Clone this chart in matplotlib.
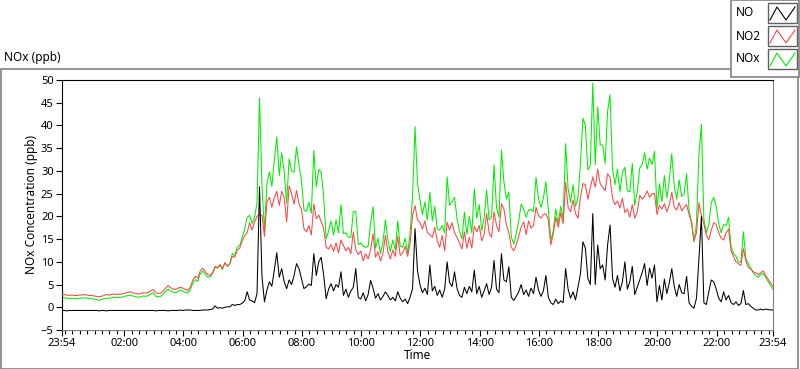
import numpy as np
import matplotlib
matplotlib.use("Agg")
import matplotlib.pyplot as plt
from matplotlib.patches import Rectangle
from matplotlib.lines import Line2D

plt.rcParams['font.family'] = ['Noto Sans', 'DejaVu Sans']

# 5-minute readings, one row per hour starting at 23:54
no = [
    -0.7, -0.7, -0.8, -0.7, -0.7, -0.7, -0.7, -0.7, -0.7, -0.7, -0.7, -0.7,
    -0.7, -0.7, -0.7, -0.8, -0.7, -0.7, -0.8, -0.7, -0.7, -0.7, -0.7, -0.7,
    -0.7, -0.7, -0.7, -0.7, -0.7, -0.7, -0.7, -0.7, -0.7, -0.7, -0.7, -0.7,
    -0.7, -0.7, -0.8, -0.7, -0.7, -0.7, -0.7, -0.8, -0.7, -0.7, -0.7, -0.7,
    -0.6, -0.7, -0.6, -0.6, -0.6, -0.7, -0.7, -0.7, -0.7, -0.6, -0.6, -0.6,
    -0.5, -0.4, 0.3, -0.2, -0.1, -0.2, 0.0, 0.1, 0.1, 0.6, 0.4, 0.6,
    0.6, 0.9, 1.4, 3.4, 1.6, 1.4, 1.0, 3.0, 26.5, 6.8, 1.2, 3.8,
    5.6, 4.6, 8.2, 12.0, 6.6, 8.5, 5.6, 4.1, 6.0, 5.0, 7.0, 9.6,
    8.5, 6.3, 4.1, 4.5, 5.1, 4.8, 11.8, 7.0, 10.0, 11.0, 7.0, 1.9,
    4.0, 5.2, 3.6, 5.0, 4.4, 7.8, 2.6, 4.0, 2.2, 3.6, 4.4, 8.5,
    2.2, 1.8, 3.2, 1.4, 2.8, 5.9, 4.2, 2.0, 3.0, 1.6, 2.4, 3.4,
    2.6, 1.6, 2.2, 1.4, 3.4, 2.0, 1.2, 1.8, 0.8, 2.2, 4.1, 17.3,
    8.0, 5.0, 3.2, 4.2, 2.8, 9.3, 3.6, 4.6, 2.6, 3.8, 2.2, 4.0,
    10.0, 5.4, 4.6, 7.8, 4.2, 2.6, 2.2, 4.4, 3.0, 4.6, 3.4, 8.2,
    3.0, 4.6, 2.2, 3.6, 5.2, 2.8, 4.4, 10.3, 4.0, 3.2, 11.8, 6.0,
    5.6, 8.9, 2.2, 1.5, 2.4, 3.4, 5.0, 2.8, 3.8, 2.4, 4.2, 3.0,
    6.6, 3.8, 2.4, 3.6, 7.0, 2.2, 1.0, 0.6, 1.8, 0.8, 1.4, 1.0,
    8.5, 4.0, 2.0, 3.4, 1.6, 4.4, 7.4, 14.4, 13.0, 6.4, 5.0, 20.6,
    5.0, 13.7, 8.5, 9.3, 6.0, 13.7, 18.1, 6.4, 4.4, 7.0, 3.6, 5.6,
    10.0, 4.0, 5.6, 9.0, 2.8, 4.4, 6.0, 7.6, 9.6, 4.8, 8.6, 6.4,
    9.3, 1.2, 4.8, 1.6, 6.2, 3.0, 5.4, 8.5, 4.6, 2.4, 5.0, 3.2,
    3.0, 6.8, 1.0, 0.2, -0.2, 2.0, 10.7, 20.0, 1.0, 0.6, 3.4, 6.0,
    5.6, 4.0, 2.0, 1.2, 3.4, 1.6, 2.6, 1.0, 0.6, 1.2, 0.4, 0.8,
    3.7, 0.6, 0.8, 0.2, -0.2, -0.6, -0.6, -0.4, -0.6, -0.4, -0.5, -0.6,
    -0.6,
]
no2 = [
    2.9, 2.8, 2.7, 2.6, 2.7, 2.6, 2.6, 2.7, 2.7, 2.8, 2.7, 2.6,
    2.6, 2.5, 2.4, 2.3, 2.4, 2.6, 2.8, 2.7, 2.8, 2.9, 2.8, 2.9,
    2.9, 3.0, 3.2, 3.3, 3.4, 3.1, 3.0, 2.9, 3.0, 3.2, 3.1, 3.3,
    3.6, 3.9, 3.2, 3.0, 3.1, 3.6, 4.2, 4.8, 4.3, 4.0, 3.9, 4.2,
    4.4, 4.2, 3.9, 3.7, 4.5, 6.0, 6.8, 6.4, 8.0, 8.6, 7.9, 7.2,
    7.0, 7.6, 9.0, 8.7, 9.4, 8.5, 9.8, 9.0, 9.6, 11.2, 11.0, 12.6,
    13.0, 14.6, 15.8, 16.4, 18.6, 17.0, 18.8, 20.0, 20.5, 20.2, 15.6, 23.2,
    24.2, 22.0, 24.2, 25.5, 22.4, 25.5, 24.2, 18.8, 26.7, 25.0, 22.7, 25.7,
    22.7, 21.6, 17.3, 16.6, 18.0, 15.9, 22.7, 19.5, 20.3, 18.8, 17.3, 13.2,
    12.8, 13.8, 12.3, 14.2, 12.0, 14.8, 13.6, 12.4, 13.2, 11.8, 16.6, 12.6,
    11.6, 12.4, 10.2, 11.8, 10.6, 12.6, 16.2, 11.0, 12.2, 10.2, 11.8, 15.8,
    12.2, 10.6, 12.6, 11.2, 15.6, 11.4, 12.0, 13.4, 11.2, 14.0, 20.3, 22.4,
    19.2, 18.6, 17.2, 19.0, 16.4, 16.0, 15.4, 17.6, 14.6, 13.2, 15.8, 12.4,
    18.7, 17.0, 18.6, 16.4, 15.4, 14.2, 12.8, 16.6, 13.0, 15.4, 13.0, 17.8,
    16.6, 18.0, 14.6, 16.0, 20.6, 16.4, 15.4, 21.0, 18.0, 16.6, 22.8, 21.6,
    18.2, 16.4, 13.2, 12.4, 13.8, 15.6, 17.7, 18.8, 16.0, 19.0, 17.4, 18.0,
    22.0, 20.2, 19.6, 20.4, 20.6, 19.2, 13.7, 16.2, 19.8, 17.6, 20.8, 18.4,
    27.5, 22.0, 21.0, 23.6, 20.6, 19.6, 24.2, 27.2, 27.0, 23.8, 26.2, 28.7,
    26.4, 30.4, 27.2, 26.4, 25.6, 29.4, 28.6, 24.0, 22.6, 23.4, 21.8, 24.0,
    20.8, 21.6, 19.8, 22.6, 19.6, 21.0, 24.6, 23.8, 24.4, 25.6, 24.2, 25.0,
    25.0, 20.4, 22.4, 21.6, 22.8, 21.0, 22.6, 25.3, 22.0, 21.4, 23.0, 21.2,
    22.0, 22.6, 20.4, 18.6, 14.6, 16.4, 23.0, 20.2, 18.4, 15.8, 14.8, 17.0,
    18.6, 18.2, 16.4, 15.2, 14.8, 16.4, 17.2, 12.4, 11.2, 10.0, 9.6, 9.2,
    12.9, 10.2, 8.8, 8.4, 7.8, 7.6, 7.2, 7.6, 8.0, 7.0, 6.2, 5.4,
    4.6,
]
nox = [
    2.2, 2.1, 2.0, 1.9, 2.0, 1.9, 1.9, 2.0, 2.0, 2.1, 2.0, 1.9,
    1.9, 1.8, 1.7, 1.5, 1.7, 1.9, 2.0, 2.0, 2.1, 2.2, 2.1, 2.2,
    2.2, 2.3, 2.5, 2.6, 2.7, 2.4, 2.3, 2.2, 2.3, 2.5, 2.4, 2.6,
    2.9, 3.2, 2.4, 2.3, 2.4, 2.9, 3.5, 4.0, 3.6, 3.3, 3.2, 3.5,
    3.8, 3.5, 3.3, 3.1, 3.9, 5.3, 6.1, 5.7, 7.3, 8.0, 7.3, 6.6,
    6.7, 7.4, 8.8, 8.6, 9.3, 8.3, 9.8, 9.1, 9.7, 11.8, 11.4, 13.2,
    13.6, 15.4, 17.2, 19.8, 20.2, 18.4, 19.8, 23.0, 46.0, 27.0, 16.8, 27.0,
    29.8, 26.6, 32.4, 37.5, 29.0, 34.0, 29.8, 22.9, 32.7, 30.0, 29.7, 35.3,
    31.2, 27.9, 21.4, 21.1, 23.1, 20.7, 34.5, 26.5, 30.3, 29.8, 24.3, 15.1,
    16.8, 19.0, 15.9, 19.2, 16.4, 22.6, 16.2, 16.4, 15.4, 15.4, 21.0, 21.1,
    13.8, 14.2, 13.4, 13.2, 13.4, 18.5, 22.1, 13.0, 15.2, 11.8, 14.2, 19.2,
    14.8, 12.2, 14.8, 12.6, 19.0, 13.4, 13.2, 15.2, 12.0, 16.2, 24.4, 39.7,
    27.2, 23.6, 20.4, 23.2, 19.2, 25.3, 19.0, 22.2, 17.2, 17.0, 18.0, 16.4,
    28.7, 22.4, 23.2, 24.2, 19.6, 16.8, 15.0, 21.0, 16.0, 20.0, 16.4, 26.0,
    19.6, 22.6, 16.8, 19.6, 25.8, 19.2, 19.8, 31.3, 22.0, 19.8, 34.6, 27.6,
    23.8, 25.3, 15.4, 13.9, 16.2, 19.0, 22.7, 21.6, 19.8, 21.4, 21.6, 21.0,
    28.6, 24.0, 22.0, 24.0, 27.6, 21.4, 14.7, 16.8, 21.6, 18.4, 22.2, 19.4,
    36.0, 26.0, 23.0, 27.0, 22.2, 24.0, 31.6, 41.6, 40.0, 30.2, 31.2, 49.3,
    31.4, 44.1, 35.7, 35.7, 31.6, 43.1, 46.7, 30.4, 27.0, 30.4, 25.4, 29.6,
    30.8, 25.6, 25.4, 31.6, 22.4, 25.4, 30.6, 31.4, 34.0, 30.4, 32.8, 31.4,
    34.3, 21.6, 27.2, 23.2, 29.0, 24.0, 28.0, 33.8, 26.6, 23.8, 28.0, 24.4,
    25.0, 29.4, 21.4, 18.8, 14.4, 18.4, 33.7, 40.2, 19.4, 16.4, 18.2, 23.0,
    24.2, 22.2, 18.4, 16.4, 18.2, 18.0, 19.8, 13.4, 11.8, 11.2, 10.0, 10.0,
    16.6, 10.8, 9.6, 8.6, 7.6, 7.0, 6.6, 7.2, 7.4, 6.6, 5.7, 4.8,
    4.0,
]

tick_labels = ["23:54", "02:00", "04:00", "06:00", "08:00", "10:00", "12:00",
               "14:00", "16:00", "18:00", "20:00", "22:00", "23:54"]
tick_hours = [0, 2.1, 4.1, 6.1, 8.1, 10.1, 12.1, 14.1, 16.1, 18.1, 20.1, 22.1, 24]

series_names = ["NO", "NO2", "NOx"]
series_colors = ["#000000", "#ff4545", "#00ee00"]

t = np.arange(len(no)) * 5 / 60.0

W, H = 800, 369
fig = plt.figure(figsize=(W / 100, H / 100), dpi=100)


def fx(x):
    return x / W


def fy(y):
    return 1 - y / H


# outer panel frame
fig.add_artist(Rectangle((fx(0.5), fy(368.5)), fx(797), fy(69.5) - fy(368.5),
                         transform=fig.transFigure, fill=False,
                         edgecolor="#808080", lw=1.2, zorder=0))

ax = fig.add_axes([fx(62), fy(330), fx(773) - fx(62), fy(80) - fy(330)])
ax.plot(t, nox, color=series_colors[2], lw=0.75, zorder=2)
ax.plot(t, no2, color=series_colors[1], lw=0.75, zorder=3)
ax.plot(t, no, color=series_colors[0], lw=0.75, zorder=4)

ax.set_xlim(0, 24)
ax.set_ylim(-5, 50)
ax.set_yticks(range(-5, 51, 5))
ax.set_xticks(tick_hours)
ax.set_xticklabels(tick_labels)
ax.set_xticks(np.arange(0.1, 24, 0.25), minor=True)
ax.tick_params(axis="both", which="major", length=4, width=0.8, labelsize=8,
               direction="out", pad=2)
ax.tick_params(axis="x", which="minor", length=3, width=0.8, direction="out")
for side in ["left", "top"]:
    ax.spines[side].set_color("black")
for side in ["right", "bottom"]:
    ax.spines[side].set_color("#808080")
ax.set_xlabel("Time", fontsize=8.5, labelpad=0)
ax.set_ylabel("NOx Concentration (ppb)", fontsize=8.5, labelpad=2)

fig.text(fx(4), fy(58), "NOx (ppb)", fontsize=8.5, va="center", ha="left")

# legend panel
fig.add_artist(Rectangle((fx(731), fy(76.5)), fx(799) - fx(731), fy(0) - fy(76.5),
                         transform=fig.transFigure, facecolor="white",
                         edgecolor="#808080", lw=1.2, zorder=5))
for i, (name, col) in enumerate(zip(series_names, series_colors)):
    top = 3 + i * 23
    fig.text(fx(736), fy(top + 10), name, fontsize=8.5, va="center",
             ha="left", zorder=6)
    fig.add_artist(Rectangle((fx(768), fy(top + 20)), fx(29), fy(top) - fy(top + 20),
                             transform=fig.transFigure, facecolor="white",
                             edgecolor="#606060", lw=1, zorder=6))
    zx = [770, 777, 786, 795]
    zy = [top + 17, top + 4, top + 17, top + 4]
    fig.add_artist(Line2D([fx(v) for v in zx], [fy(v) for v in zy],
                          transform=fig.transFigure, color=col, lw=0.8, zorder=7))

fig.savefig("out.png", dpi=100)
